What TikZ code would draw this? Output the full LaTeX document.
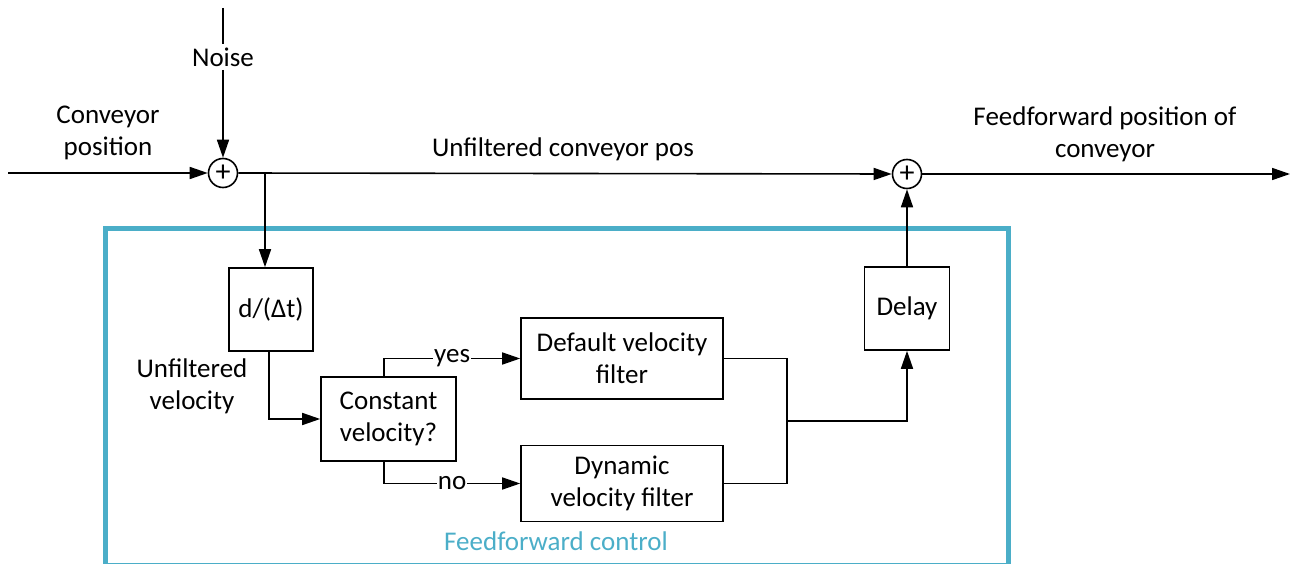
\documentclass[tikz,border=0pt]{standalone}
\usepackage{fontspec}
\setmainfont{Carlito}
\usetikzlibrary{arrows.meta}
\definecolor{ffteal}{RGB}{75,174,200}
\begin{document}
\begin{tikzpicture}[x=1pt,y=-1pt,
  every node/.style={font=\fontsize{27}{32}\selectfont},
  line/.style={line width=1.6pt},
  arr/.style={line width=1.6pt, -{Triangle[length=18pt,width=12pt]}},
  block/.style={draw, line width=1.6pt, align=center, inner sep=0pt},
  sumnode/.style={draw, circle, line width=1.6pt, minimum size=29pt, inner sep=0pt,
    font=\fontsize{30}{30}\selectfont},
  lbl/.style={align=center},
  onwire/.style={fill=white, inner sep=1pt},
]
\useasboundingbox (0,0) rectangle (1294,564);

% feedforward control frame
\draw[ffteal, line width=5pt] (105,229) rectangle (1008,565);
\node[text=ffteal] (fftitle) at (556,541) {Feedforward control};

% summing junctions
\node[sumnode] (sum1) at (223,173) {+};
\node[sumnode] (sum2) at (907,174) {+};

% blocks
\node[block, minimum width=84pt, minimum height=83pt] (d) at (271,309.5) {d/(Δt)};
\node[block, minimum width=135pt, minimum height=84pt] (const) at (388.5,419) {Constant\\velocity?};
\node[block, minimum width=202pt, minimum height=81pt] (default) at (622,358.5) {Default velocity\\filter};
\node[block, minimum width=202pt, minimum height=76pt] (dynamic) at (622,483.5) {Dynamic\\velocity filter};
\node[block, minimum width=85pt, minimum height=83pt] (delay) at (907,308.5) {Delay};

% labels
\node[lbl] (convpos) at (108,133) {Conveyor\\position};
\node[lbl] (unfpos) at (563,149) {Unfiltered conveyor pos};
\node[lbl] (ffout) at (1105,134) {Feedforward position of\\conveyor};
\node[lbl] (unfvel) at (192,386) {Unfiltered\\velocity};
\node (noise) at (223,57) {Noise};

% free ends and branch points
\coordinate (in) at (8,173);
\coordinate (ntop) at (223,8);
\coordinate (out) at (1290,174);
\coordinate (br) at (265,173);
\coordinate (j) at (787,421);

% signal paths
\draw[arr] (in) -- (sum1.west);
\draw[line] (ntop) -- (noise.north);
\draw[arr] (noise.south) -- (sum1.north);
\draw[arr] (sum1.east) -- (sum2.west);
\draw[arr] (sum2.east) -- (out);
\draw[arr] (br) -- (br |- d.north);
\draw[arr] ([xshift=-2pt]d.south) |- (const.west);
\draw[arr] ([xshift=-4.5pt]const.north) |- node[pos=0.75, onwire] (yes) {yes} (default.west);
\draw[arr] ([xshift=-4.5pt]const.south) |- node[pos=0.75, onwire] (no) {no} (dynamic.west);
\draw[line] (default.east) -| (j) |- (dynamic.east);
\draw[arr] (j) -| (delay.south);
\draw[arr] (delay.north) -- (sum2.south);
\end{tikzpicture}
\end{document}
